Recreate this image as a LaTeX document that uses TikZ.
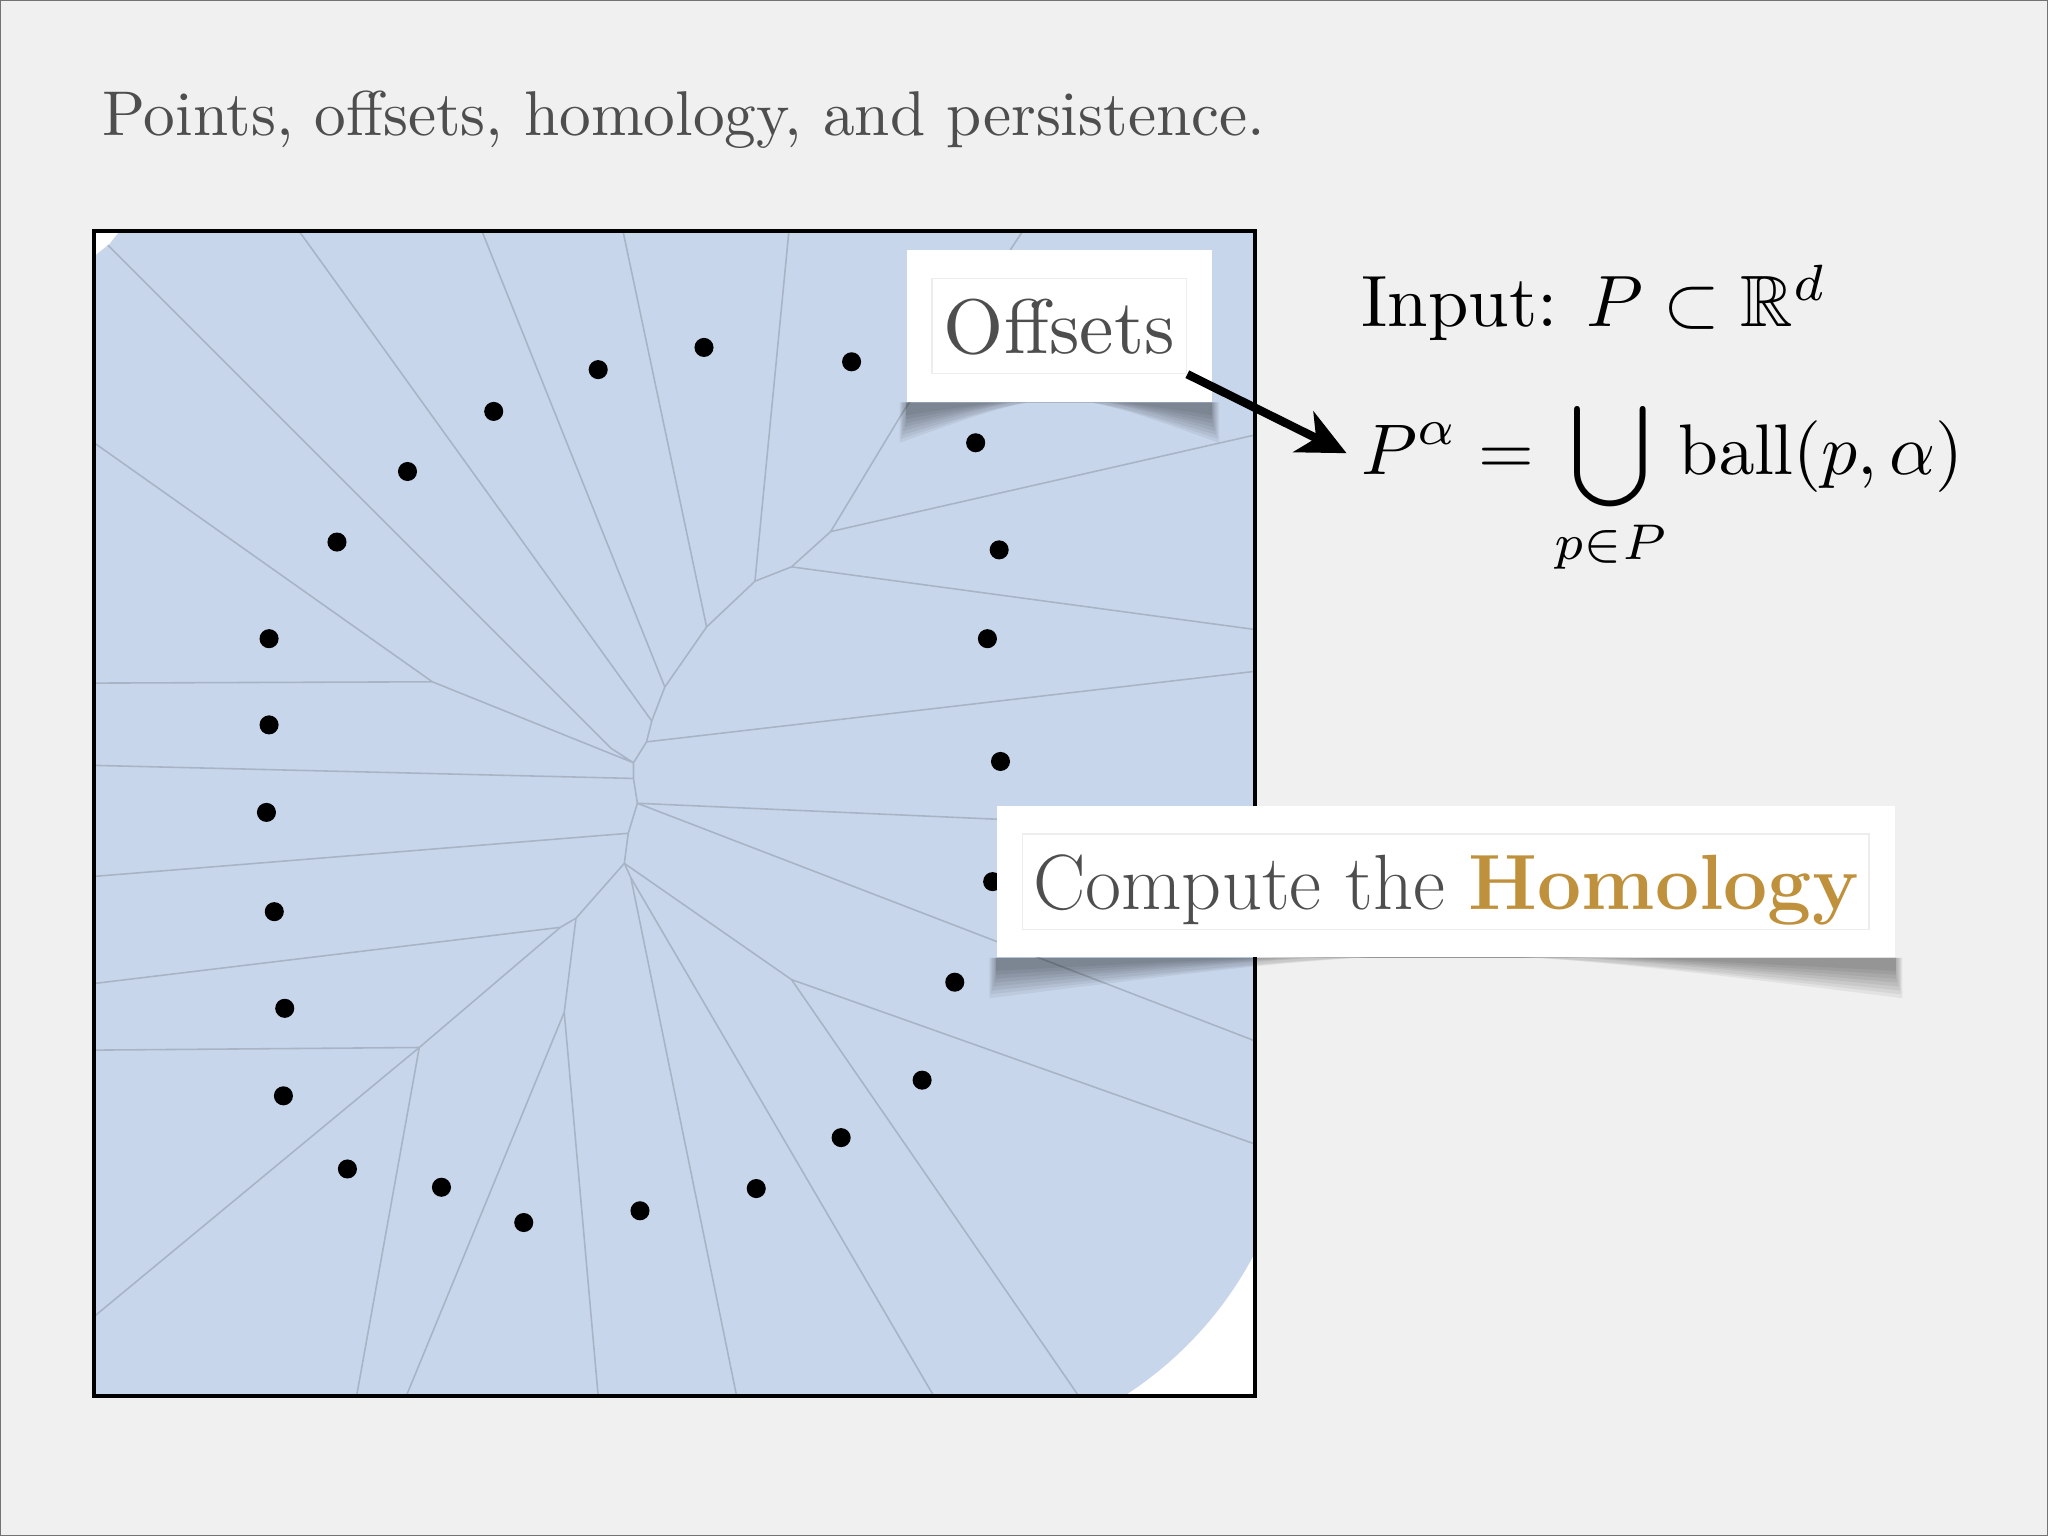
\documentclass[tikz,border=0pt]{standalone}
\usepackage{amsmath,amssymb}
\usetikzlibrary{arrows.meta, calc, positioning}
\definecolor{slidegray}{RGB}{240,240,240}
\definecolor{offsetblue}{RGB}{200,214,235}
\definecolor{cellline}{RGB}{168,180,197}
\definecolor{textgray}{RGB}{78,78,78}
\definecolor{homologygold}{RGB}{192,145,60}
\pgfdeclarelayer{cards}
\pgfsetlayers{main,cards}

\begin{document}
\begin{tikzpicture}[
  x=0.0130612cm, y=-0.0130612cm,
  cellwall/.style={
    draw=cellline,
    line width=0.45pt
  },
  site/.style={fill=black},
  card/.style={
    fill=white,
    inner sep=0pt
  },
  cardframe/.style={
    draw=black!7,
    line width=0.4pt,
    inner sep=0pt,
    text depth=0pt,
    text=textgray,
    minimum height=0.953cm
  },
  card shadow/.style={
    fill=black,
    opacity=0.055
  },
  offset arrow/.style={
    -{Stealth[length=4.8mm, width=4.5mm, inset=1.4mm]},
    line width=2.4pt
  },
  mathline/.style={
    anchor=base west,
    inner sep=0pt
  }
]
\useasboundingbox (0,0) rectangle (1568,1176);
\fill[slidegray] (0,0) rectangle (1568,1176);
\draw[black!55, line width=0.8pt] (0,0) rectangle (1568,1176);

% title
\node (title) [anchor=base west, inner sep=0pt, text=textgray] at (78,104)
  {\scalebox{1.8}{Points, offsets, homology, and persistence.}};

% sample points
\foreach \x/\y [count=\i] in {458/283, 539/266, 652/277, 747/339, 765/421,
    756/489, 766/583, 760/675, 731/752, 706/827, 644/871, 579/910, 490/927,
    401/936, 338/909, 266/895, 217/839, 218/772, 210/698, 204/622, 206/555,
    206/489, 258/415, 312/361, 378/315}
  \coordinate (p\i) at (\x,\y);

% the offset, union of balls
\fill[white] (72,177) rectangle (961,1069);
\begin{scope}
  \clip (72,177) rectangle (961,1069);
  \fill[offsetblue] \foreach \i in {1,...,25} {(p\i) circle (287)};
\end{scope}

% voronoi vertices
\coordinate (t1) at (636,407);
\coordinate (t2) at (606,434);
\coordinate (t3) at (578,445);
\coordinate (t4) at (541,480);
\coordinate (t5) at (509,526);
\coordinate (c1) at (499,552);
\coordinate (c2) at (495,568);
\coordinate (c3) at (485,584);
\coordinate (c4) at (485,596);
\coordinate (c5) at (488,615);
\coordinate (c6) at (481,638);
\coordinate (c7) at (478,661);
\coordinate (c8) at (483,672);
\coordinate (j9) at (606,750);
\coordinate (k1) at (331,522);
\coordinate (k2) at (468,573);
\coordinate (l1) at (441,703);
\coordinate (l2) at (429,710);
\coordinate (l3) at (432,775);
\coordinate (l4) at (321,802);

\begin{scope}
  \clip \foreach \i in {1,...,25} {(p\i) circle (287)};
  \draw[cellwall] (783,177) -- (691,316) -- (t1) -- (t2) -- (t3) -- (t4) -- (t5)
    -- (c1) -- (c2) -- (c3) -- (c4) -- (c5) -- (c6) -- (c7) -- (c8);
  \draw[cellwall] (t1) -- (961,333);
  \draw[cellwall] (t2) -- (961,482);
  \draw[cellwall] (t3) -- (604,177);
  \draw[cellwall] (t4) -- (477,177);
  \draw[cellwall] (t5) -- (369,177);
  \draw[cellwall] (c1) -- (229,177);
  \draw[cellwall] (c2) -- (961,514);
  \draw[cellwall] (72,177) -- (k2) -- (c3) -- (k1) -- (72,339);
  \draw[cellwall] (k1) -- (72,523);
  \draw[cellwall] (c4) -- (72,586);
  \draw[cellwall] (c5) -- (961,636);
  \draw[cellwall] (c5) -- (961,797);
  \draw[cellwall] (c6) -- (72,671);
  \draw[cellwall] (72,753) -- (l2) -- (l1) -- (c7) -- (j9) -- (961,876);
  \draw[cellwall] (j9) -- (826,1069);
  \draw[cellwall] (c8) -- (715,1069);
  \draw[cellwall] (c8) -- (564,1069);
  \draw[cellwall] (l1) -- (l3) -- (458,1069);
  \draw[cellwall] (l3) -- (311,1069);
  \draw[cellwall] (l2) -- (l4) -- (72,804);
  \draw[cellwall] (l4) -- (273,1069);
  \draw[cellwall] (l4) -- (72,1008);
\end{scope}

\foreach \i in {1,...,25}
  \fill[site] (p\i) circle (7.3);

\draw[line width=1.2pt] (72,177) rectangle (961,1069);

% formulas
\node (input) [mathline] at (1042,250)
  {\scalebox{2.07}{Input:\hspace{0.4em}$P\subset\mathbb{R}^d$}};
\node (offsetdef) [mathline] at (1042,363)
  {\scalebox{2.04}{$\displaystyle P^\alpha=\bigcup_{p\in P}\mathrm{ball}(p,\alpha)$}};
\coordinate (arrowtip) at (1031,347);

% cards
\begin{pgfonlayer}{cards}
\node (offsetsbox) [card, minimum width=3.05cm, minimum height=1.515cm] at (811,249.5) {};
\node (offsets) [cardframe, minimum width=2.547cm] at (offsetsbox.center)
  {\scalebox{2.2}{Offsets}};
\node (computebox) [card, minimum width=8.986cm, minimum height=1.509cm] at (1107,675) {};
\node (compute) [cardframe, minimum width=8.464cm, font=\fontsize{22.3}{26}\selectfont]
  at (computebox.center) {Compute the \textcolor{homologygold}{\bfseries Homology}};
\draw[offset arrow] (offsets.south east) -- (arrowtip);
\end{pgfonlayer}

% curled shadows under the cards
\foreach \d/\m/\s in {31/9/5, 28/8/4, 25/7/3, 22/5/2, 19/4/1, 16/3/0, 13/2/0, 10/1/0} {
  \fill[card shadow] ($(offsetsbox.south west)+(-\s,0)$) -- ++(0,\d)
    .. controls ($(offsetsbox.south)+(0,{2*\m-\d})$) .. ($(offsetsbox.south east)+(\s,\d)$)
    -- ($(offsetsbox.south east)+(\s,0)$) -- cycle;
  \fill[card shadow] ($(computebox.south west)+(-\s,0)$) -- ++(0,\d)
    .. controls ($(computebox.south)+(0,{2*\m-\d})$) .. ($(computebox.south east)+(\s,\d)$)
    -- ($(computebox.south east)+(\s,0)$) -- cycle;
}
\end{tikzpicture}
\end{document}
